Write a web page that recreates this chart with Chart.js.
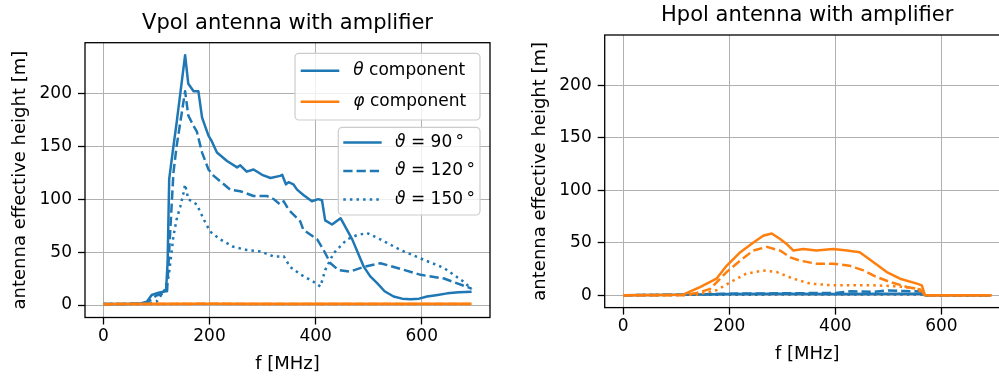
<!DOCTYPE html>
<html><head><meta charset="utf-8">
<script src="https://cdn.jsdelivr.net/npm/chart.js@4"></script>
<style>
html,body{margin:0;padding:0;background:#fff;overflow:hidden;width:999px;height:378px;}
#c1{position:absolute;left:0;top:0;}
#c2{position:absolute;left:500px;top:0;}
</style></head><body>
<canvas id="c1" width="500" height="378"></canvas>
<canvas id="c2" width="512" height="378"></canvas>
<script>
// ---------- data ----------
const xTicks = [0, 200, 400, 600];
const yTicks = [0, 50, 100, 150, 200];
const xAxisTitle = 'f [MHz]';
const yAxisTitle = 'antenna effective height [m]';
const leftTitle = 'Vpol antenna with amplifier';
const rightTitle = 'Hpol antenna with amplifier';
const legendComponents = ['θ component', 'φ component'];
const legendAngles = ['ϑ = 90\u2009°', 'ϑ = 120\u2009°', 'ϑ = 150\u2009°'];

// Vpol, theta component
const vpolF90 = [0,40,70,82,91,104,113,118,121,124,132,138,154,160,170,179,186,198,204,214,233,252,258,270,283,299,315,333,337,344,349,358,365,377,393,405,412,418,431,447,469,480,491,503,516,530,547,563,579,595,610,630,648,670,694];
const vpolTheta90 = [1,1,1.5,3,9.5,11.7,12.6,13,40,119,150,172,236,209,202,202,177,160,155,144,136,130,132,126,128,123,120,122,123,114,116,114,109,104,98,100,99,80,76,82,62,49,36,27,20.6,13,8,6,5.4,6,8,9.5,11,12,12.6];
const vpolF120 = [0,40,80,100,113,120,126,132,138,154,160,170,176,186,198,208,220,239,258,283,308,321,333,340,349,371,377,403,415,428,443,465,491,522,554,598,642,694];
const vpolTheta120 = [1,1,1.5,9,11,13,70,125,150,202,179,169,164,144,128,122,117,109,107.5,103,103,100,95,98,90,79,71,62,52,39.5,33,31.6,36,39.5,35,28.5,25,15.5];
const vpolF150 = [0,40,80,100,107,115,123,132,138,145,151,154,160,176,189,201,220,245,270,296,321,340,352,371,396,409,418,434,459,478,497,522,560,604,642,679,694];
const vpolTheta150 = [1,1,1,3,8,14,27,65,81,93,106,114,100,95,81,69.5,62,55,52,50.6,45.8,46,36,29,22,17.4,33,49,62,66,68,62,52,42.7,35,22,15];
// Vpol, phi component
const vpolFPhi = [0,100,200,300,400,500,600,694];
const vpolPhi90 = [1.0,1.2,1.3,1.2,1.2,1.1,1.2,1.1];
const vpolPhi120 = [0.8,1.0,1.1,1.0,1.0,0.9,1.0,0.9];
const vpolPhi150 = [0.6,0.8,0.9,0.8,0.8,0.7,0.8,0.7];

// Hpol, phi component
const hpolF90 = [0,113,145,176,195,221,245,264,280,296,310,321,340,364,396,422,446,472,497,522,554,563,569,694];
const hpolPhi90 = [0,0.5,7.8,15.7,28,41,50,56.6,58.8,53.5,48,42.5,44,42.5,44,42.5,41,31.4,22,15.7,11,9.4,0,0];
const hpolF120 = [0,113,138,164,195,221,245,271,296,315,333,364,396,427,453,478,503,535,560,569,694];
const hpolPhi120 = [0,0,2,6,22,33,42.5,46,42.5,36,33,30,30,28,23.6,17.3,12.6,7.8,5.4,0,0];
const hpolF150 = [0,138,176,208,232,264,290,321,353,396,472,516,554,569,694];
const hpolPhi150 = [0,0.5,4.7,14,20.5,23.6,22,15.7,11,9.4,9.4,8.5,6.3,0,0];
// Hpol, theta component
const hpolFT90 = [0,113,200,300,400,500,563,569,694];
const hpolTheta90 = [0,0.5,1.2,1.3,1.2,1.4,1.3,0,0];
const hpolFT120 = [0,113,200,300,400,430,470,500,530,563,569,694];
const hpolTheta120 = [0,0.5,1.5,1.8,2.2,3.8,3.2,4.5,4,3.5,0,0];
const hpolFT150 = [0,113,300,500,563,569,694];
const hpolTheta150 = [0,0.3,0.6,0.8,0.7,0,0];

// ---------- styling ----------
const FONT = '"DejaVu Sans", sans-serif';
const BLUE = '#1f77b4', ORANGE = '#ff7f0e', GRID = '#b0b0b0';
const xMin = -34.7, xMax = 728.7, yMin = -11.8, yMax = 247.8;
const DASH = {solid: [], dashed: [9.25, 4], dotted: [2.5, 4.1]};

function pts(f, v) { return f.map((x, i) => ({x: x, y: v[i]})); }
function ds(label, f, v, color, style) {
  return {label, data: pts(f, v), borderColor: color, backgroundColor: color,
    borderWidth: 2.5, borderDash: DASH[style], pointRadius: 0, fill: false,
    tension: 0, borderCapStyle: 'butt', borderJoinStyle: 'round'};
}

const framePlugin = {
  id: 'frame',
  afterDatasetsDraw(chart) {
    const {ctx, chartArea: a} = chart;
    ctx.save();
    ctx.strokeStyle = '#000'; ctx.lineWidth = 1.3; ctx.setLineDash([]);
    ctx.strokeRect(a.left, a.top, a.right - a.left, a.bottom - a.top);
    ctx.restore();
  }
};

function roundRect(ctx, x, y, w, h, r) {
  ctx.beginPath();
  ctx.moveTo(x + r, y); ctx.lineTo(x + w - r, y); ctx.arcTo(x + w, y, x + w, y + r, r);
  ctx.lineTo(x + w, y + h - r); ctx.arcTo(x + w, y + h, x + w - r, y + h, r);
  ctx.lineTo(x + r, y + h); ctx.arcTo(x, y + h, x, y + h - r, r);
  ctx.lineTo(x, y + r); ctx.arcTo(x, y, x + r, y, r); ctx.closePath();
}
function richText(ctx, text, x, y) {
  // first character (greek symbol) italic, rest upright
  const sym = text[0], rest = text.slice(1);
  ctx.font = 'italic 17px ' + FONT;
  ctx.fillText(sym, x, y);
  const w = ctx.measureText(sym).width;
  ctx.font = '17px ' + FONT;
  ctx.fillText(rest, x + w, y);
}
function drawLegend(ctx, box, lineX0, lineX1, textX, rows) {
  ctx.save();
  roundRect(ctx, box[0], box[1], box[2], box[3], 4);
  ctx.fillStyle = 'rgba(255,255,255,0.8)'; ctx.fill();
  ctx.strokeStyle = '#cccccc'; ctx.lineWidth = 1.2; ctx.stroke();
  rows.forEach(r => {
    ctx.beginPath(); ctx.setLineDash(DASH[r.style]); ctx.lineCap = 'butt';
    ctx.strokeStyle = r.color; ctx.lineWidth = 2.5;
    ctx.moveTo(lineX0, r.y); ctx.lineTo(lineX1, r.y); ctx.stroke();
    ctx.setLineDash([]);
    ctx.fillStyle = '#000'; ctx.textBaseline = 'middle'; ctx.textAlign = 'left';
    richText(ctx, r.text, textX, r.y);
  });
  ctx.restore();
}
const legendPlugin = {
  id: 'customLegends',
  afterDraw(chart) {
    const ctx = chart.ctx;
    drawLegend(ctx, [295, 53.3, 185, 66.7], 300.7, 339.3, 353.3, [
      {y: 70.7, color: BLUE, style: 'solid', text: legendComponents[0]},
      {y: 101.7, color: ORANGE, style: 'solid', text: legendComponents[1]}
    ]);
    drawLegend(ctx, [338.3, 127.3, 141.7, 87.7], 343.3, 381.7, 395, [
      {y: 142.5, color: BLUE, style: 'solid', text: legendAngles[0]},
      {y: 171, color: BLUE, style: 'dashed', text: legendAngles[1]},
      {y: 199.5, color: BLUE, style: 'dotted', text: legendAngles[2]}
    ]);
  }
};

function makeOptions(cfg) {
  return {
    responsive: false, animation: false, devicePixelRatio: 1,
    layout: {padding: cfg.pad},
    plugins: {
      legend: {display: false}, tooltip: {enabled: false},
      title: {display: true, text: cfg.title, fullSize: false, color: '#000',
        font: {family: FONT, size: 21, weight: 'normal'},
        padding: {top: cfg.tpt, bottom: cfg.tpb}}
    },
    scales: {
      x: {type: 'linear', min: xMin, max: xMax,
        afterBuildTicks: s => { s.ticks = xTicks.map(v => ({value: v})); },
        afterFit: s => { s.height = 60.5; },
        ticks: {font: {family: FONT, size: 17}, color: '#000', padding: 2, maxRotation: 0, autoSkip: false},
        grid: {color: GRID, lineWidth: 1, tickColor: '#000', tickLength: 7, tickWidth: 1.3, drawTicks: true},
        border: {display: false},
        title: {display: true, text: xAxisTitle, color: '#000', font: {family: FONT, size: 18},
          padding: {top: 0, bottom: cfg.xtpb}}},
      y: {type: 'linear', min: yMin, max: yMax,
        afterBuildTicks: s => { s.ticks = yTicks.map(v => ({value: v})); },
        afterFit: s => { s.width = cfg.yw; },
        ticks: {font: {family: FONT, size: 17}, color: '#000', padding: 6, autoSkip: false},
        grid: {color: GRID, lineWidth: 1, tickColor: '#000', tickLength: 7, tickWidth: 1.3, drawTicks: true},
        border: {display: false},
        title: {display: true, text: yAxisTitle, color: '#000', font: {family: FONT, size: 18},
          padding: {top: cfg.ytpt, bottom: 0}}}
    }
  };
}

new Chart(document.getElementById('c1'), {
  type: 'line',
  data: {datasets: [
    ds('φ 90', vpolFPhi, vpolPhi90, ORANGE, 'solid'),
    ds('φ 120', vpolFPhi, vpolPhi120, ORANGE, 'dashed'),
    ds('φ 150', vpolFPhi, vpolPhi150, ORANGE, 'dotted'),
    ds('θ 90', vpolF90, vpolTheta90, BLUE, 'solid'),
    ds('θ 120', vpolF120, vpolTheta120, BLUE, 'dashed'),
    ds('θ 150', vpolF150, vpolTheta150, BLUE, 'dotted')
  ]},
  options: makeOptions({title: leftTitle, pad: {top: 0, left: 0, right: 10, bottom: 0},
    tpt: 11.4, tpb: 6.1, xtpb: 3.2, yw: 85, ytpt: 9.9}),
  plugins: [framePlugin, legendPlugin]
});

new Chart(document.getElementById('c2'), {
  type: 'line',
  data: {datasets: [
    ds('φ 90', hpolF90, hpolPhi90, ORANGE, 'solid'),
    ds('φ 120', hpolF120, hpolPhi120, ORANGE, 'dashed'),
    ds('φ 150', hpolF150, hpolPhi150, ORANGE, 'dotted'),
    ds('θ 90', hpolFT90, hpolTheta90, BLUE, 'solid'),
    ds('θ 120', hpolFT120, hpolTheta120, BLUE, 'dashed'),
    ds('θ 150', hpolFT150, hpolTheta150, BLUE, 'dotted')
  ]},
  options: makeOptions({title: rightTitle, pad: {top: 0, left: 0, right: 2.3, bottom: 9.9},
    tpt: 3.4, tpb: 6.4, xtpb: 3.3, yw: 104.7, ytpt: 29.6}),
  plugins: [framePlugin]
});
</script>
</body></html>
